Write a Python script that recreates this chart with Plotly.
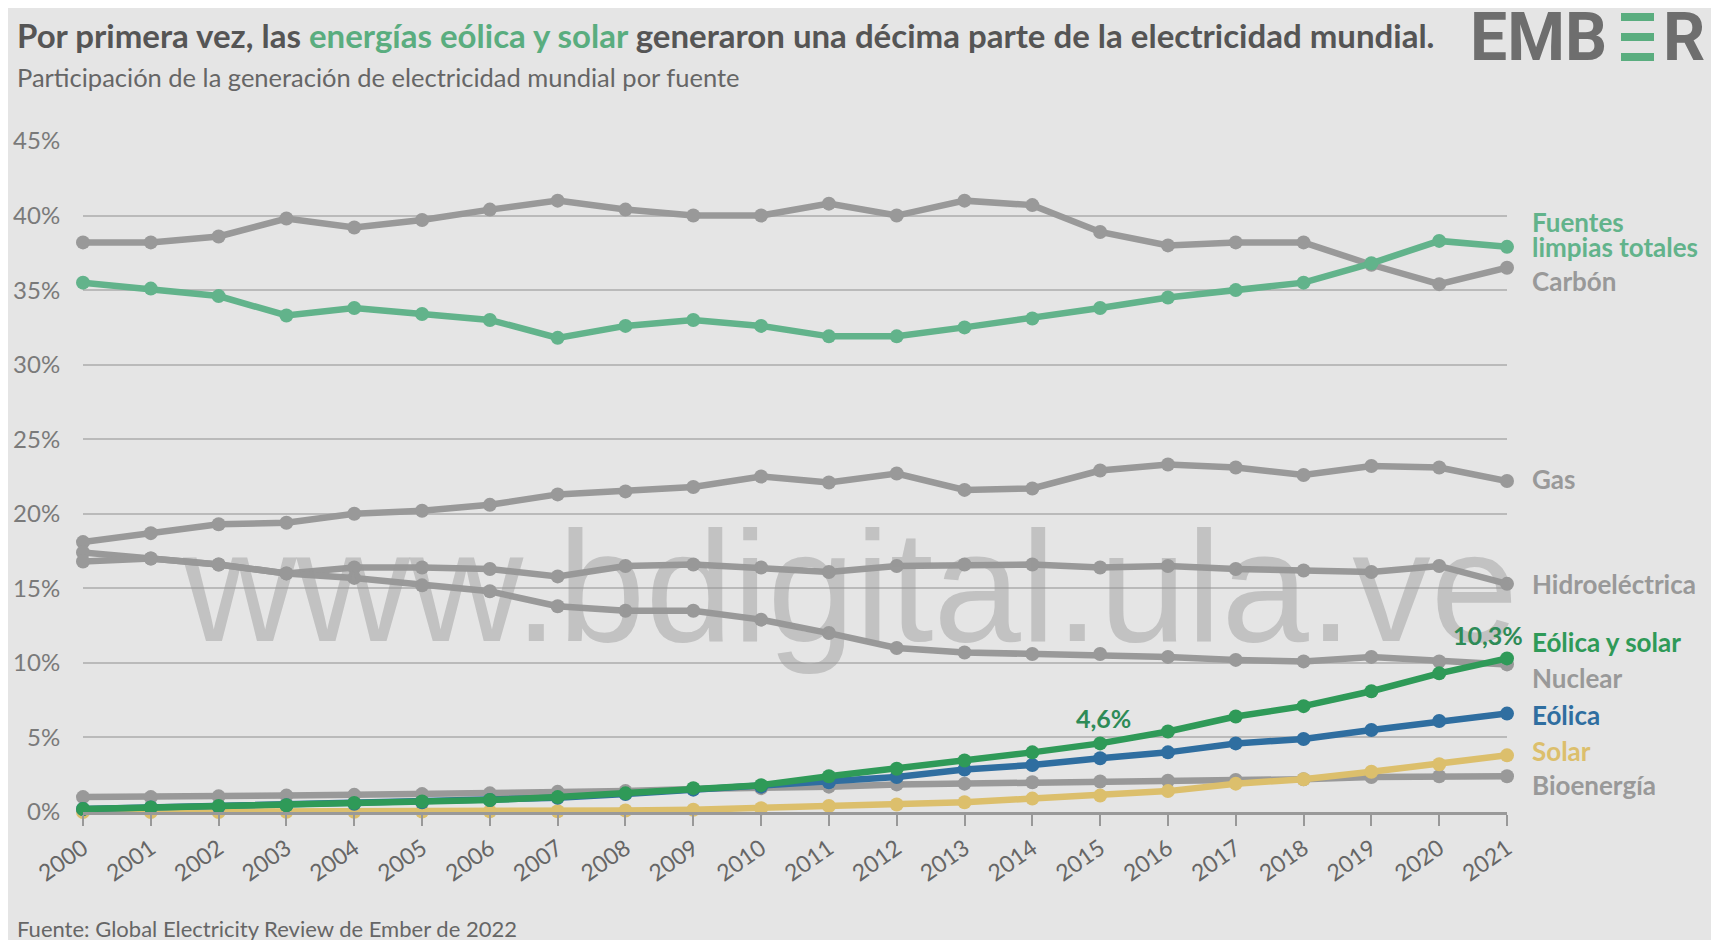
import plotly.graph_objects as go

years = list(range(2000, 2022))

carbon = [38.2, 38.2, 38.6, 39.8, 39.2, 39.7, 40.4, 41.0, 40.4, 40.0, 40.0, 40.8,
          40.0, 41.0, 40.7, 38.9, 38.0, 38.2, 38.2, 36.7, 35.4, 36.5]
clean_total = [35.5, 35.1, 34.6, 33.3, 33.8, 33.4, 33.0, 31.8, 32.6, 33.0, 32.6, 31.9,
               31.9, 32.5, 33.1, 33.8, 34.5, 35.0, 35.5, 36.8, 38.3, 37.9]
gas = [18.1, 18.7, 19.3, 19.4, 20.0, 20.2, 20.6, 21.3, 21.5, 21.8, 22.5, 22.1,
       22.7, 21.6, 21.7, 22.9, 23.3, 23.1, 22.6, 23.2, 23.1, 22.2]
hydro = [17.4, 17.0, 16.6, 16.0, 16.4, 16.4, 16.3, 15.8, 16.5, 16.6, 16.4, 16.1,
         16.5, 16.6, 16.6, 16.4, 16.5, 16.3, 16.2, 16.1, 16.5, 15.3]
nuclear = [16.8, 17.0, 16.6, 16.0, 15.7, 15.2, 14.8, 13.8, 13.5, 13.5, 12.9, 12.0,
           11.0, 10.7, 10.6, 10.6, 10.4, 10.2, 10.1, 10.4, 10.1, 9.9]
wind_solar = [0.2, 0.3, 0.4, 0.45, 0.6, 0.7, 0.8, 1.0, 1.25, 1.6, 1.8, 2.4,
              2.9, 3.45, 4.0, 4.6, 5.4, 6.4, 7.1, 8.1, 9.3, 10.3]
wind = [0.2, 0.3, 0.35, 0.45, 0.55, 0.65, 0.8, 0.95, 1.2, 1.5, 1.7, 2.0,
        2.35, 2.85, 3.15, 3.6, 4.0, 4.6, 4.9, 5.5, 6.1, 6.6]
solar = [0.0, 0.0, 0.0, 0.02, 0.02, 0.03, 0.04, 0.05, 0.1, 0.15, 0.25, 0.4,
         0.5, 0.65, 0.9, 1.1, 1.4, 1.9, 2.2, 2.7, 3.2, 3.8]
bio = [1.0, 1.0, 1.05, 1.1, 1.15, 1.2, 1.25, 1.35, 1.4, 1.55, 1.6, 1.7,
       1.85, 1.9, 2.0, 2.05, 2.1, 2.15, 2.2, 2.35, 2.4, 2.4]

y_ticks = [0, 5, 10, 15, 20, 25, 30, 35, 40, 45]

GRAY = "#999999"
GREEN_L = "#62b38b"
GREEN_D = "#2f9a58"
BLUE = "#2f6ea0"
YELLOW = "#dcbf6c"

series = [
    ("Carbón", carbon, GRAY),
    ("Gas", gas, GRAY),
    ("Hidroeléctrica", hydro, GRAY),
    ("Nuclear", nuclear, GRAY),
    ("Bioenergía", bio, GRAY),
    ("Solar", solar, YELLOW),
    ("Eólica", wind, BLUE),
    ("Eólica y solar", wind_solar, GREEN_D),
    ("Fuentes limpias totales", clean_total, GREEN_L),
]

fig = go.Figure()
for name, vals, col in series:
    fig.add_trace(go.Scatter(
        x=years, y=vals, name=name, mode="lines+markers",
        line=dict(color=col, width=6.5),
        marker=dict(color=col, size=14),
        cliponaxis=False, showlegend=False,
    ))

OFF = 8  # page body margin
# plot area in screenshot pixels
L0, R0, T0, B0 = 83, 1507, 141, 812
L, R, T, B = L0 - OFF, R0 - OFF, T0 - OFF, B0 - OFF
W, H = R - L, B - T
def px(xp):
    return (xp - OFF - L) / W
def py(yp):
    return (B - (yp - OFF)) / H

FONT = "Lato"
ann = []
ann.append(dict(
    text="Por primera vez, las <span style='color:#5aad7f'>energías eólica y solar</span> generaron una décima parte de la electricidad mundial.",
    x=px(15), y=py(35), xref="paper", yref="paper", xanchor="left", yanchor="middle",
    showarrow=False, font=dict(family=FONT, size=33, color="#555555", weight="bold")))
ann.append(dict(
    text="Participación de la generación de electricidad mundial por fuente",
    x=px(15), y=py(77), xref="paper", yref="paper", xanchor="left", yanchor="middle",
    showarrow=False, font=dict(family=FONT, size=25.5, color="#666666")))
ann.append(dict(
    text="Fuente: Global Electricity Review de Ember de 2022",
    x=px(15), y=py(928), xref="paper", yref="paper", xanchor="left", yanchor="middle",
    showarrow=False, font=dict(family=FONT, size=22, color="#666666")))

# logo
ann.append(dict(text="EMB", x=px(1468), y=py(38), xref="paper", yref="paper",
                xanchor="left", yanchor="middle", showarrow=False,
                font=dict(family="Roboto", size=66, color="#6e6e6e", weight="bold")))
ann.append(dict(text="R", x=px(1661), y=py(38), xref="paper", yref="paper",
                xanchor="left", yanchor="middle", showarrow=False,
                font=dict(family="Roboto", size=66, color="#6e6e6e", weight="bold")))

# watermark
ann.append(dict(text="www.bdigital.ula.ve", x=px(850), y=py(586), xref="paper", yref="paper",
                xanchor="center", yanchor="middle", showarrow=False,
                font=dict(family="Liberation Sans", size=157, color="rgba(150,150,150,0.45)")))

# right-hand labels: (text, label value, point value, colour)
labels = [
    ("Fuentes", 39.6, None, GREEN_L),
    ("limpias totales", 37.9, None, GREEN_L),
    ("Carbón", 35.6, carbon[-1], GRAY),
    ("Gas", 22.3, gas[-1], GRAY),
    ("Hidroeléctrica", 15.3, hydro[-1], GRAY),
    ("Eólica y solar", 11.4, wind_solar[-1], GREEN_D),
    ("Nuclear", 9.0, nuclear[-1], GRAY),
    ("Eólica", 6.5, wind[-1], BLUE),
    ("Solar", 4.1, solar[-1], YELLOW),
    ("Bioenergía", 1.8, bio[-1], GRAY),
]
shapes = []
for text, lv, pv, col in labels:
    ann.append(dict(text=text, x=2021, y=lv, xref="x", yref="y", xanchor="left",
                    yanchor="middle", xshift=23, showarrow=False, align="left",
                    font=dict(family=FONT, size=26, color=col, weight="bold")))
    if pv is None:
        continue
    if abs(lv - pv) < 0.35:
        path = f"M 10,{pv} L 20,{pv}"
    else:
        path = f"M 10,{pv} L 14,{pv} L 14,{lv} L 20,{lv}"
    shapes.append(dict(type="path", path=path, xref="x", yref="y",
                       xsizemode="pixel", xanchor=2021,
                       line=dict(color=col, width=1.6)))
# bracket for the two-line clean label
cl_mid = 38.75
shapes.append(dict(type="path", path=f"M 10,{clean_total[-1]} L 14,{clean_total[-1]} L 14,{cl_mid} L 20,{cl_mid}",
                   xref="x", yref="y", xsizemode="pixel", xanchor=2021,
                   line=dict(color=GREEN_L, width=1.6)))

# value callouts
ann.append(dict(text="10,3%", x=2021, y=wind_solar[-1], xref="x", yref="y",
                xanchor="center", yanchor="middle", yshift=23, xshift=-19, showarrow=False,
                font=dict(family=FONT, size=25, color="#2e8b57", weight="bold")))
ann.append(dict(text="4,6%", x=2015, y=wind_solar[15], xref="x", yref="y",
                xanchor="center", yanchor="middle", yshift=25, xshift=3, showarrow=False,
                font=dict(family=FONT, size=25, color="#2e8b57", weight="bold")))

# logo green bars
for y0, y1 in [(13, 21), (33, 41), (53, 61)]:
    shapes.append(dict(type="rect", xref="paper", yref="paper",
                       x0=px(1621), x1=px(1654), y0=py(y1), y1=py(y0),
                       fillcolor="#5aad7f", line=dict(width=0)))

fig.update_layout(
    width=1719, height=940,
    margin=dict(l=L, r=1719 - R, t=T, b=940 - B, autoexpand=False),
    paper_bgcolor="#e5e5e5", plot_bgcolor="#e5e5e5",
    annotations=ann, shapes=shapes,
    font=dict(family=FONT),
)
fig.update_xaxes(
    range=[2000, 2021], tickvals=years, ticktext=[str(y) for y in years],
    tickangle=-35, showgrid=False, zeroline=False,
    showline=True, linecolor="#999999", linewidth=3,
    ticks="outside", ticklen=11, tickwidth=2, tickcolor="#999999",
    tickfont=dict(family=FONT, size=23, color="#666666"),
)
fig.update_yaxes(
    range=[0, 45], tickvals=y_ticks, ticktext=[f"{v}%" for v in y_ticks],
    showgrid=True, gridcolor="#bababa", gridwidth=2, zeroline=False,
    showline=False, ticks="outside", ticklen=17, tickcolor="rgba(0,0,0,0)",
    tickfont=dict(family=FONT, size=24, color="#7a7a7a"),
)

fig.write_html("out.html")
